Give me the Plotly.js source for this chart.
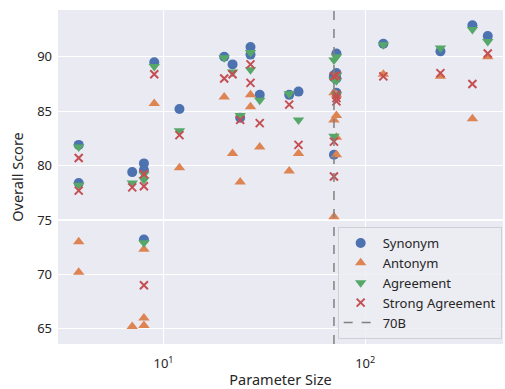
<!DOCTYPE html>
<html>
<head>
<meta charset="utf-8">
<script src="https://cdn.plot.ly/plotly-3.0.1.min.js"></script>
<style>html,body{margin:0;padding:0;background:#fff;}#chart{width:505px;height:389px;}</style>
</head>
<body>
<div id="chart"></div>
<script>
// Parameter sizes (billions)
const paramSize = [3.8, 3.8, 7, 8, 8, 8, 9, 12, 20, 22, 24, 27, 27, 30, 42, 46.7, 70, 70, 70, 72, 72, 72, 72, 123, 236, 340, 405];
const synonym   = [81.9, 78.4, 79.4, 80.2, 79.6, 73.2, 89.5, 85.2, 90.0, 89.3, 84.4, 90.9, 90.2, 86.5, 86.5, 86.8, 88.3, 81.0, 88.1, 90.3, 88.0, 86.7, 88.5, 91.2, 90.5, 92.9, 91.9];
const antonym   = [73.0, 70.2, 65.2, 66.0, 65.3, 72.3, 85.7, 79.8, 86.3, 81.1, 78.5, 86.5, 85.4, 81.7, 79.5, 81.1, 86.7, 84.2, 75.3, 86.5, 84.6, 82.6, 81.0, 88.4, 88.2, 84.3, 90.0];
const agreement = [81.7, 78.2, 78.4, 79.2, 78.7, 72.9, 89.1, 83.2, 89.9, 88.6, 84.6, 90.4, 88.8, 86.0, 86.6, 84.2, 89.7, 82.7, 87.9, 90.0, 88.3, 86.5, 87.8, 91.1, 90.8, 92.5, 91.4];
const strongAgreement = [80.7, 77.7, 78.0, 79.2, 78.1, 69.0, 88.4, 82.8, 88.0, 88.4, 84.2, 89.3, 87.6, 83.9, 85.6, 81.9, 88.2, 82.2, 79.0, 88.3, 86.2, 86.5, 85.9, 88.2, 88.5, 87.5, 90.3];
const threshold = 70;
const thresholdLabel = "70B";
const yRange = [63.6, 94.3];
const xRange = [3.0, 482];
const yTicks = [65, 70, 75, 80, 85, 90];
const xTicks = [10, 100];
const xTickText = ["10<sup>1</sup>", "10<sup>2</sup>"];

const font = "Noto Sans, DejaVu Sans, sans-serif";

const traces = [
  {x: paramSize, y: synonym, name: "Synonym", mode: "markers", type: "scatter",
   marker: {symbol: "circle", size: 10, color: "#4C72B0"}},
  {x: paramSize, y: antonym, name: "Antonym", mode: "markers", type: "scatter",
   marker: {symbol: "triangle-up", size: 10, color: "#DD8452"}},
  {x: paramSize, y: agreement, name: "Agreement", mode: "markers", type: "scatter",
   marker: {symbol: "triangle-down", size: 10, color: "#55A868"}},
  {x: paramSize, y: strongAgreement, name: "Strong Agreement", mode: "markers", type: "scatter",
   marker: {symbol: "x-thin", size: 8, color: "#C44E52", line: {color: "#C44E52", width: 2}}},
  {x: [threshold, threshold], y: yRange, name: thresholdLabel, mode: "lines", type: "scatter",
   line: {color: "#808080", width: 1.5, dash: "dash"}}
];

const layout = {
  width: 505, height: 389,
  margin: {l: 58, r: 2, t: 10, b: 45},
  paper_bgcolor: "#ffffff",
  plot_bgcolor: "#EAEAF2",
  font: {family: font, size: 12, color: "#262626"},
  showlegend: true,
  xaxis: {
    type: "log",
    range: [Math.log10(xRange[0]), Math.log10(xRange[1])],
    tickvals: xTicks, ticktext: xTickText,
    showgrid: true, gridcolor: "#ffffff", gridwidth: 1.2,
    zeroline: false, showline: false, ticks: "",
    ticklabelstandoff: 10,
    tickfont: {size: 13, color: "#262626"},
    title: {text: "Parameter Size", font: {size: 14.5, color: "#262626"}, standoff: 4}
  },
  yaxis: {
    range: yRange,
    tickvals: yTicks,
    showgrid: true, gridcolor: "#ffffff", gridwidth: 1.2,
    zeroline: false, showline: false, ticks: "",
    ticklabelstandoff: 5,
    tickfont: {size: 13, color: "#262626"},
    title: {text: "Overall Score", font: {size: 14.5, color: "#262626"}, standoff: 10}
  },
  legend: {
    x: 0.997, xanchor: "right", y: 0.015, yanchor: "bottom",
    bgcolor: "rgba(236,236,243,0.85)", bordercolor: "#cfcfd6", borderwidth: 1,
    font: {size: 13, color: "#262626"},
    tracegroupgap: 0, itemwidth: 34
  }
};

Plotly.newPlot("chart", traces, layout, {displayModeBar: false, staticPlot: true});
</script>
</body>
</html>
